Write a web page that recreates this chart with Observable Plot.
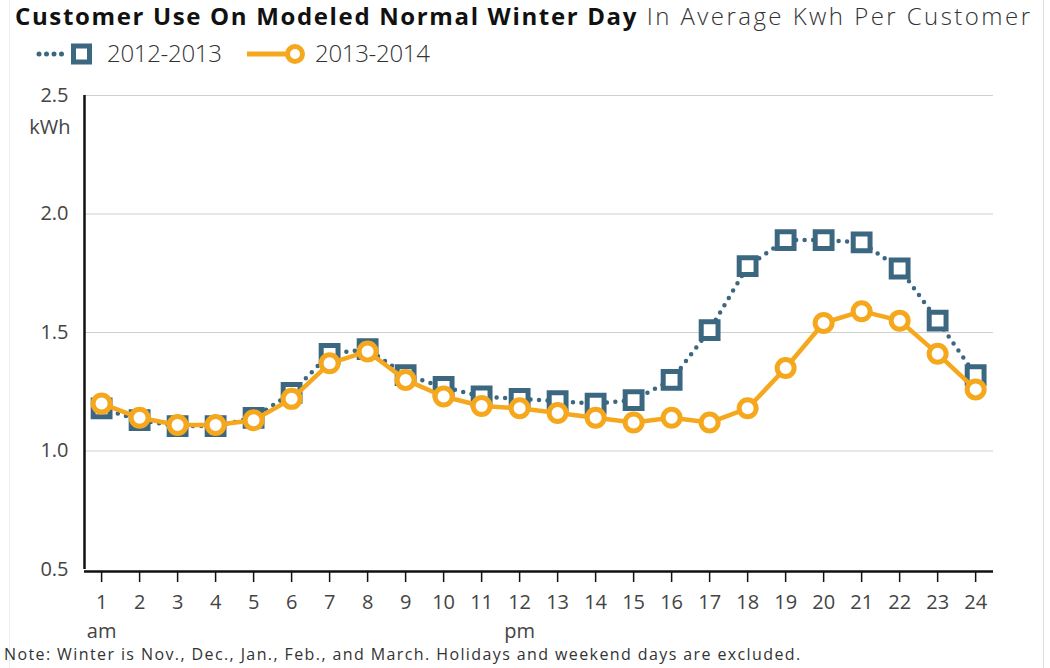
<!DOCTYPE html>
<html>
<head>
<meta charset="utf-8">
<script src="https://cdn.jsdelivr.net/npm/d3@7"></script>
<script src="https://cdn.jsdelivr.net/npm/@observablehq/plot@0.6"></script>
<style>
  html, body { margin: 0; padding: 0; background: #fff; }
  body { width: 1050px; height: 668px; position: relative; overflow: hidden; font-family: "Open Sans", sans-serif; }
  #title { position: absolute; left: 15px; top: -1px; font-size: 24px; color: #111; white-space: nowrap; }
  #title b { font-weight: 700; letter-spacing: 1.65px; }
  #title span { font-weight: 300; color: #333; letter-spacing: 2.45px; }
  #legend { position: absolute; left: 0px; top: 34px; height: 40px; }
  #chart { position: absolute; left: 0; top: 80px; }
  #note { position: absolute; left: 4px; top: 643px; font-size: 16px; color: #333; white-space: nowrap; letter-spacing: 1.4px; }
  #frame { position: absolute; left: 9px; width: 1033px; top: 0px; bottom: 0px; border-left: 1px solid #eee; border-right: 1px solid #ddd; }
</style>
</head>
<body>
<div id="frame"></div>
<div id="title"><b>Customer Use On Modeled Normal Winter Day</b><span> In Average Kwh Per Customer</span></div>
<div id="legend"></div>
<div id="chart"></div>
<div id="note">Note: Winter is Nov., Dec., Jan., Feb., and March. Holidays and weekend days are excluded.</div>
<script>
const hours = [1,2,3,4,5,6,7,8,9,10,11,12,13,14,15,16,17,18,19,20,21,22,23,24];
const use2012 = [1.18,1.13,1.105,1.105,1.14,1.245,1.41,1.43,1.32,1.27,1.23,1.22,1.21,1.20,1.215,1.30,1.51,1.78,1.89,1.89,1.88,1.77,1.55,1.32];
const use2013 = [1.20,1.14,1.11,1.11,1.13,1.22,1.37,1.42,1.30,1.23,1.19,1.18,1.16,1.14,1.12,1.14,1.12,1.18,1.35,1.54,1.59,1.55,1.41,1.26];
const seriesNames = ["2012-2013", "2013-2014"];
const yTicks = [0.5, 1.0, 1.5, 2.0, 2.5];
const gridTicks = [1.0, 1.5, 2.0, 2.5];
const subLabels = [{hour: 1, label: "am"}, {hour: 12, label: "pm"}];
const yUnit = [{y: 2.5, label: "kWh"}];

const blue = "#3b6781";
const orange = "#f5a81d";

const d2012 = hours.map((h, i) => ({hour: h, value: use2012[i]}));
const d2013 = hours.map((h, i) => ({hour: h, value: use2013[i]}));

const font = "'Open Sans', sans-serif";

const plot = Plot.plot({
  width: 1050,
  height: 560,
  marginLeft: 84,
  marginRight: 57,
  marginTop: 15,
  marginBottom: 71,
  style: {fontFamily: font, background: "transparent", overflow: "visible"},
  x: {domain: [0.55, 24.47], label: null},
  y: {domain: [0.5, 2.5], label: null},
  marks: [
    Plot.ruleY(gridTicks, {stroke: "#cfcfcf", strokeWidth: 1.2}),
    Plot.ruleY([0.5], {stroke: "#111", strokeWidth: 2.5, dy: 2}),
    Plot.ruleX([0.55], {y1: 0.5, y2: 2.5, stroke: "#111", strokeWidth: 2.5}),
    Plot.axisY({ticks: yTicks, tickFormat: d3.format(".1f"), tickSize: 0, tickPadding: 16, fontSize: 20, fill: "#444", label: null}),
    Plot.text(yUnit, {x: 0.55, y: "y", text: "label", dy: 32, dx: -14, textAnchor: "end", fontSize: 20, fill: "#444"}),
    Plot.axisX({ticks: hours, tickSize: 11, tickPadding: 12, fontSize: 20, fill: "#444", stroke: "#111", strokeWidth: 1.5, tickFormat: d => String(d), dy: 2, label: null}),
    Plot.text(subLabels, {x: "hour", y: 0.5, text: "label", dy: 62, fontSize: 20, fill: "#444"}),
    Plot.line(d2012, {x: "hour", y: "value", stroke: blue, strokeWidth: 4.5, strokeDasharray: "0 8.5", strokeLinecap: "round"}),
    Plot.dot(d2012, {x: "hour", y: "value", symbol: "square", r: 9.5, stroke: blue, strokeWidth: 5, fill: "white"}),
    Plot.line(d2013, {x: "hour", y: "value", stroke: orange, strokeWidth: 4.5}),
    Plot.dot(d2013, {x: "hour", y: "value", symbol: "circle", r: 8.5, stroke: orange, strokeWidth: 5, fill: "white"})
  ]
});
document.getElementById("chart").appendChild(plot);

// legend (svg y = page y - 34)
const leg = d3.select("#legend").append("svg").attr("width", 520).attr("height", 40)
  .style("font-family", font);
const cy = 20;
const g1 = leg.append("g");
g1.append("line").attr("x1", 39).attr("x2", 68).attr("y1", cy).attr("y2", cy)
  .attr("stroke", blue).attr("stroke-width", 5).attr("stroke-dasharray", "0 7.5").attr("stroke-linecap", "round");
g1.append("rect").attr("x", 73.5).attr("y", cy - 8).attr("width", 16).attr("height", 16)
  .attr("fill", "white").attr("stroke", blue).attr("stroke-width", 5);
g1.append("text").attr("x", 107).attr("y", 28).attr("font-size", 24).attr("font-weight", 300)
  .attr("letter-spacing", -0.3).attr("fill", "#333").text(seriesNames[0]);
const g2 = leg.append("g");
g2.append("line").attr("x1", 247).attr("x2", 287).attr("y1", cy).attr("y2", cy)
  .attr("stroke", orange).attr("stroke-width", 5);
g2.append("circle").attr("cx", 295).attr("cy", cy).attr("r", 7.5)
  .attr("fill", "white").attr("stroke", orange).attr("stroke-width", 5);
g2.append("text").attr("x", 315).attr("y", 28).attr("font-size", 24).attr("font-weight", 300)
  .attr("letter-spacing", -0.3).attr("fill", "#333").text(seriesNames[1]);
</script>
</body>
</html>
